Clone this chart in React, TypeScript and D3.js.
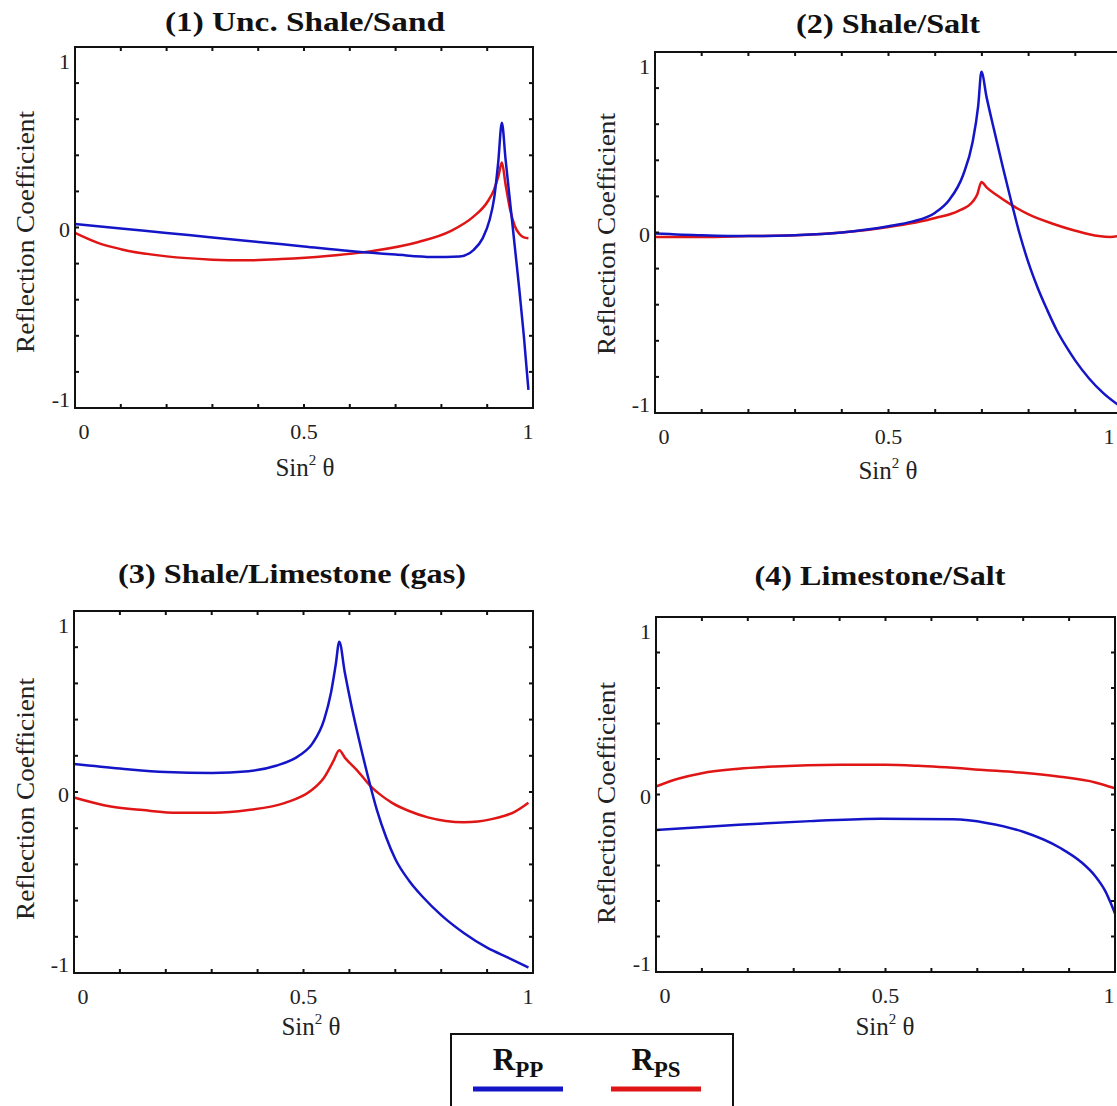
import React from 'react';
import * as d3 from 'd3';

type P = [number, number];

const panelTitles = ["(1) Unc. Shale/Sand", "(2) Shale/Salt", "(3) Shale/Limestone (gas)", "(4) Limestone/Salt"];
const xTickLabels = ["0", "0.5", "1"];
const yTickLabels = ["1", "0", "-1"];
const legendNames = [["R", "PP"], ["R", "PS"]];

const p1Rpp: P[] = [[0,0.02],[0.1,-0.005],[0.2,-0.03],[0.3,-0.055],[0.4,-0.08],[0.5,-0.105],[0.6,-0.13],[0.7,-0.15],[0.78,-0.163],[0.84,-0.16],[0.87,-0.125],[0.89,-0.06],[0.905,0.04],[0.915,0.16],[0.924,0.36],[0.932,0.58],[0.94,0.38],[0.95,0.14],[0.96,-0.1],[0.97,-0.34],[0.98,-0.6],[0.99,-0.9]];
const p1Rps: P[] = [[0,-0.03],[0.05,-0.085],[0.1,-0.12],[0.2,-0.16],[0.3,-0.178],[0.37,-0.182],[0.45,-0.175],[0.55,-0.158],[0.65,-0.13],[0.75,-0.08],[0.82,-0.02],[0.87,0.06],[0.9,0.14],[0.915,0.21],[0.925,0.29],[0.932,0.36],[0.94,0.24],[0.95,0.1],[0.96,0.01],[0.97,-0.035],[0.98,-0.055],[0.99,-0.06]];
const p2Rpp: P[] = [[0,-0.005],[0.1,-0.015],[0.2,-0.02],[0.3,-0.015],[0.4,0.0],[0.45,0.015],[0.5,0.035],[0.55,0.06],[0.6,0.11],[0.63,0.18],[0.66,0.32],[0.68,0.5],[0.692,0.7],[0.699,0.89],[0.71,0.75],[0.725,0.58],[0.745,0.36],[0.765,0.15],[0.78,0.0],[0.8,-0.17],[0.82,-0.31],[0.84,-0.43],[0.86,-0.54],[0.88,-0.63],[0.9,-0.71],[0.93,-0.81],[0.96,-0.89],[1.0,-0.97]];
const p2Rps: P[] = [[0,-0.025],[0.1,-0.025],[0.2,-0.02],[0.3,-0.015],[0.4,0.0],[0.5,0.03],[0.6,0.08],[0.65,0.12],[0.68,0.17],[0.69,0.21],[0.699,0.28],[0.71,0.25],[0.73,0.21],[0.765,0.15],[0.8,0.1],[0.85,0.05],[0.9,0.01],[0.95,-0.02],[0.975,-0.025],[1.0,-0.015]];
const p3Rpp: P[] = [[0,0.155],[0.1,0.13],[0.2,0.11],[0.3,0.105],[0.38,0.115],[0.44,0.145],[0.49,0.2],[0.52,0.27],[0.545,0.4],[0.56,0.55],[0.57,0.7],[0.578,0.83],[0.59,0.66],[0.605,0.47],[0.62,0.3],[0.64,0.09],[0.66,-0.1],[0.68,-0.25],[0.7,-0.37],[0.73,-0.49],[0.76,-0.58],[0.8,-0.68],[0.85,-0.78],[0.9,-0.86],[0.95,-0.92],[0.99,-0.97]];
const p3Rps: P[] = [[0,-0.03],[0.08,-0.08],[0.15,-0.1],[0.227,-0.115],[0.305,-0.115],[0.38,-0.1],[0.46,-0.06],[0.515,0.005],[0.545,0.08],[0.565,0.17],[0.578,0.23],[0.59,0.19],[0.605,0.15],[0.62,0.11],[0.647,0.03],[0.67,-0.02],[0.693,-0.06],[0.73,-0.105],[0.771,-0.14],[0.81,-0.16],[0.849,-0.167],[0.88,-0.163],[0.91,-0.15],[0.94,-0.13],[0.96,-0.11],[0.99,-0.06]];
const p4Rpp: P[] = [[0,-0.2],[0.18,-0.17],[0.336,-0.15],[0.49,-0.136],[0.646,-0.14],[0.72,-0.16],[0.8,-0.21],[0.88,-0.3],[0.926,-0.38],[0.957,-0.46],[0.98,-0.55],[0.992,-0.62],[1.0,-0.67]];
const p4Rps: P[] = [[0,0.045],[0.05,0.09],[0.1,0.12],[0.18,0.145],[0.26,0.158],[0.4,0.167],[0.5,0.167],[0.57,0.162],[0.72,0.137],[0.8,0.122],[0.88,0.1],[0.957,0.068],[1.0,0.035]];

const series = [[p1Rpp, p1Rps], [p2Rpp, p2Rps], [p3Rpp, p3Rps], [p4Rpp, p4Rps]];

// layout (pixel positions only)
const W = 1117;
const H = 1106;
const frames = [
  { l: 75, t: 47, r: 533, b: 408 },
  { l: 655, t: 52, r: 1122, b: 413 },
  { l: 74, t: 611, r: 533, b: 973 },
  { l: 656, t: 617, r: 1115, b: 972 },
];
const titlePos = [
  { x: 305, y: 31, w: 280 },
  { x: 888, y: 33, w: 184 },
  { x: 292, y: 583, w: 348 },
  { x: 880, y: 585, w: 251 },
];
const yLabelPos = [
  { x: 25, y: 232 },
  { x: 606, y: 234 },
  { x: 25, y: 799 },
  { x: 606, y: 803 },
];
const xLabelPos = [
  { x: 305, y: 476 },
  { x: 888, y: 479 },
  { x: 311, y: 1035 },
  { x: 885, y: 1035 },
];

const BLUE = '#1515c8';
const RED = '#e01515';
const SERIF = '"Liberation Serif", "Times New Roman", Times, serif';

function Panel({ i }: { i: number }) {
  const f = frames[i];
  const x = d3.scaleLinear().domain([0, 1]).range([f.l, f.r]);
  const y = d3.scaleLinear().domain([-1, 1]).range([f.b, f.t]);
  const line = d3.line<P>().x(d => x(d[0])).y(d => y(d[1])).curve(d3.curveMonotoneX);
  const minorX = d3.range(1, 10).map(k => k / 10);
  const minorY = d3.range(1, 10).map(k => -1 + k * 0.2);
  const tl = 4;
  const [rpp, rps] = series[i];
  const xTickVals = xTickLabels.map(Number);
  const yTickVals = yTickLabels.map(Number);
  return (
    <g>
      <text x={titlePos[i].x} y={titlePos[i].y} textAnchor="middle" fontFamily={SERIF} fontWeight="bold" fontSize={28}
        textLength={titlePos[i].w} lengthAdjust="spacingAndGlyphs" fill="#111">{panelTitles[i]}</text>
      <path d={line(rps) || ''} fill="none" stroke={RED} strokeWidth={2.5} />
      <path d={line(rpp) || ''} fill="none" stroke={BLUE} strokeWidth={2.5} />
      <rect x={f.l} y={f.t} width={f.r - f.l} height={f.b - f.t} fill="none" stroke="#111" strokeWidth={2} />
      {minorX.map(v => (
        <g key={'x' + v}>
          <line x1={x(v)} x2={x(v)} y1={f.b} y2={f.b - tl} stroke="#111" strokeWidth={2} />
          <line x1={x(v)} x2={x(v)} y1={f.t} y2={f.t + tl} stroke="#111" strokeWidth={2} />
        </g>
      ))}
      {minorY.map(v => (
        <g key={'y' + v}>
          <line x1={f.l} x2={f.l + tl} y1={y(v)} y2={y(v)} stroke="#111" strokeWidth={2} />
          <line x1={f.r} x2={f.r - tl} y1={y(v)} y2={y(v)} stroke="#111" strokeWidth={2} />
        </g>
      ))}
      {xTickLabels.map((s, k) => {
        const v = xTickVals[k];
        let px = v === 0 ? x(v) + 9 : v === 1 ? x(v) - 5 : x(v);
        px = Math.min(px, W - 8);
        return <text key={s} x={px} y={f.b + 23} textAnchor="middle" dominantBaseline="central" fontFamily={SERIF} fontSize={22} fill="#222">{s}</text>;
      })}
      {yTickLabels.map((s, k) => {
        const v = yTickVals[k];
        const py = v === 1 ? y(v) + 14 : v === -1 ? y(v) - 9 : y(v) + 2;
        return <text key={s} x={f.l - 5} y={py} textAnchor="end" dominantBaseline="central" fontFamily={SERIF} fontSize={22} fill="#222">{s}</text>;
      })}
      <text transform={`translate(${yLabelPos[i].x},${yLabelPos[i].y}) rotate(-90)`} textAnchor="middle" dominantBaseline="central"
        fontFamily={SERIF} fontSize={26} textLength={242} lengthAdjust="spacingAndGlyphs" fill="#222">Reflection Coefficient</text>
      <text x={xLabelPos[i].x} y={xLabelPos[i].y} textAnchor="middle" fontFamily={SERIF} fontSize={25} fill="#222">
        Sin<tspan fontSize={15} dy={-11}>2</tspan><tspan dy={11}> θ</tspan>
      </text>
    </g>
  );
}

function Legend() {
  const colors = [BLUE, RED];
  const cx = [518, 656];
  return (
    <g>
      <rect x={451} y={1034} width={282} height={120} fill="#fff" stroke="#111" strokeWidth={2} />
      {legendNames.map((n, k) => (
        <g key={k}>
          <text x={cx[k]} y={1070} textAnchor="middle" fontFamily={SERIF} fontWeight="bold" fill="#111">
            <tspan fontSize={31}>{n[0]}</tspan><tspan fontSize={23} dy={7}>{n[1]}</tspan>
          </text>
          <line x1={cx[k] - 45} x2={cx[k] + 45} y1={1089} y2={1089} stroke={colors[k]} strokeWidth={5} />
        </g>
      ))}
    </g>
  );
}

export default function App() {
  return (
    <svg width={W} height={H} viewBox={`0 0 ${W} ${H}`}
      style={{ position: 'absolute', left: 0, top: 0, background: '#fff', overflow: 'hidden' }}>
      <rect x={0} y={0} width={W} height={H} fill="#fff" />
      {[0, 1, 2, 3].map(i => <Panel key={i} i={i} />)}
      <Legend />
    </svg>
  );
}
